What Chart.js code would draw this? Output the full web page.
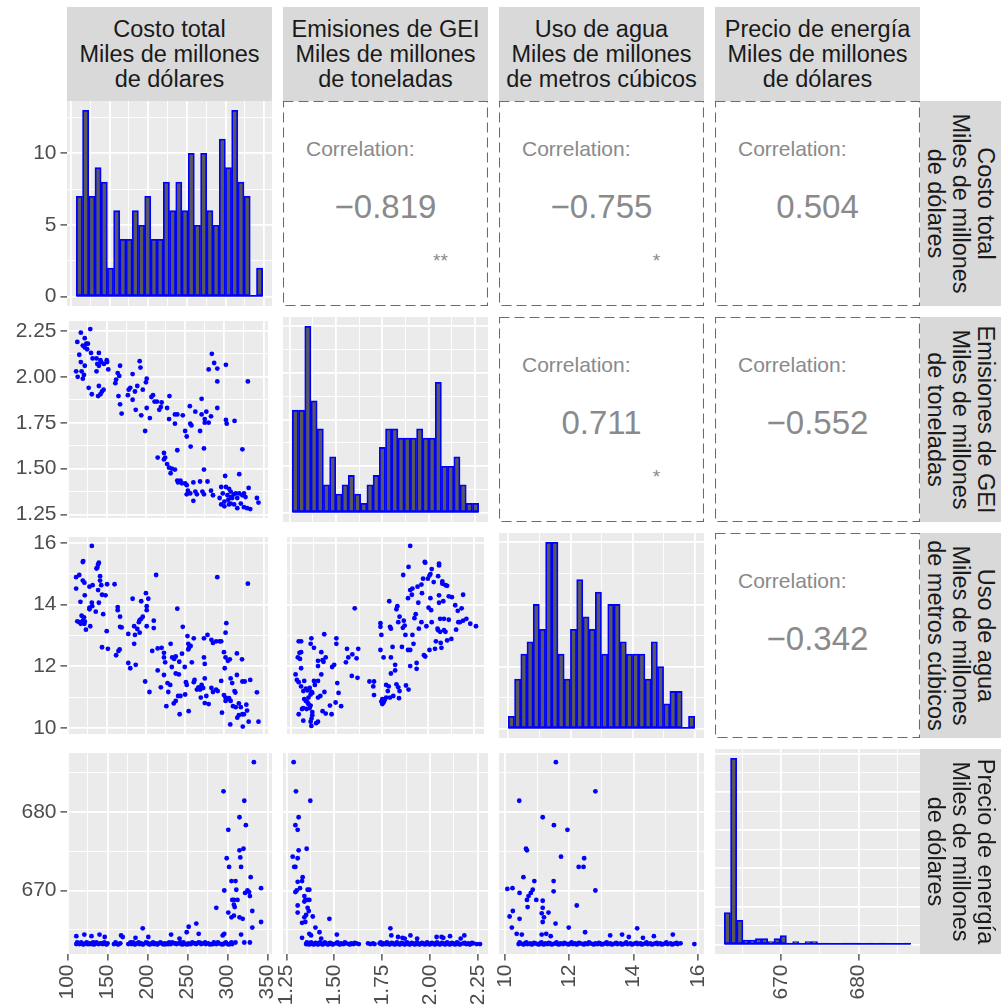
<!DOCTYPE html>
<html>
<head>
<meta charset="utf-8">
<script src="https://cdn.jsdelivr.net/npm/chart.js@4.4.1/dist/chart.umd.min.js"></script>
<style>
  body { margin: 0; width: 1008px; height: 1008px; position: relative; overflow: hidden; background: #fff;
         font-family: "Liberation Sans", Arial, sans-serif; }
  canvas { position: absolute; }
  .strip { position: absolute; background: #d9d9d9; color: #1a1a1a; font-size: 23.5px; line-height: 25px;
           display: flex; flex-direction: column; align-items: center; justify-content: center; white-space: nowrap; }
  .upper { position: absolute; width: 205px; height: 205px; background: #fff; }
  .upper svg { position: absolute; left: 0; top: 0; }
  .corr-label { position: absolute; left: 23px; top: 37px; font-size: 21px; line-height: 21px; color: #8a8a8a; white-space: nowrap; }
  .corr-value { position: absolute; left: 0; width: 205px; top: 89px; text-align: center; font-size: 33px; line-height: 33px; color: #8a8a8a; }
  .corr-stars { position: absolute; left: 137px; width: 41px; top: 150px; text-align: center; font-size: 19px; line-height: 19px; color: #8a8a8a; }
</style>
</head>
<body>
<script>
const FONT = '"Liberation Sans", Arial, sans-serif';

// variables (ranges of the data)
const costRange = [111, 344];
const ghgRange = [1.28, 2.255];
const waterRange = [10.1, 15.9];
const priceRange = [663.1, 686.3];

const costBreaks = [100, 150, 200, 250, 300, 350];
const costLabels = ['100', '150', '200', '250', '300', '350'];
const costMinor = [125, 175, 225, 275, 325];
const ghgBreaks = [1.25, 1.5, 1.75, 2.0, 2.25];
const ghgLabels = ['1.25', '1.50', '1.75', '2.00', '2.25'];
const ghgMinor = [1.375, 1.625, 1.875, 2.125];
const waterBreaks = [10, 12, 14, 16];
const waterLabels = ['10', '12', '14', '16'];
const waterMinor = [11, 13, 15];
const priceBreaks = [670, 680];
const priceLabels = ['670', '680'];
const priceMinor = [665, 675, 685];

const stripLabels = [
  ['Costo total', 'Miles de millones', 'de dólares'],
  ['Emisiones de GEI', 'Miles de millones', 'de toneladas'],
  ['Uso de agua', 'Miles de millones', 'de metros cúbicos'],
  ['Precio de energía', 'Miles de millones', 'de dólares']
];

// histogram counts (30 bins each)
const costCounts = [7, 13, 7, 9, 8, 2, 6, 4, 4, 6, 5, 7, 4, 4, 8, 6, 8, 6, 10, 5, 10, 6, 5, 11, 9, 13, 8, 7, 0, 2];
const ghgCounts = [11, 11, 20, 12, 9, 3, 6, 2, 3, 4, 2, 1, 3, 4, 7, 9, 9, 8, 8, 8, 9, 8, 8, 14, 5, 5, 6, 3, 1, 1];
const waterCounts = [1, 4, 6, 7, 10, 8, 15, 15, 6, 4, 8, 12, 9, 8, 11, 6, 10, 10, 7, 6, 6, 6, 4, 7, 5, 2, 3, 3, 0, 1];
const priceCounts = [21, 122, 16, 3, 3, 4, 4, 2, 4, 6, 1, 2, 0, 2, 2, 1, 1, 0, 0, 1, 1, 1, 0, 1, 0, 1, 0, 0, 0, 1];
const costCountBreaks = [0, 5, 10], costCountMinor = [2.5, 7.5, 12.5];
const ghgCountBreaks = [0, 5, 10, 15, 20], ghgCountMinor = [2.5, 7.5, 12.5, 17.5];
const waterCountBreaks = [0, 5, 10, 15], waterCountMinor = [2.5, 7.5, 12.5];
const priceCountBreaks = [0, 25, 50, 75, 100, 125], priceCountMinor = [12.5, 37.5, 62.5, 87.5, 112.5];

// correlations shown in the upper panels: [row, col, value, stars]
const corrPanels = [
  [0, 1, '\u22120.819', '**'], [0, 2, '\u22120.755', '*'], [0, 3, '0.504', ''],
  [1, 2, '0.711', '*'], [1, 3, '\u22120.552', ''], [2, 3, '\u22120.342', '']
];

// scatter points [x, y]
const costGhg = [[129,2.26],[117,2.24],[112.5,2.19],[122,2.21],[124,2.18],[119.5,2.17],[122,2.16],[126,2.18],[125,2.15],[115,2.12],[130,2.13],[132,2.10],[140,2.13],[137,2.10],[117,2.08],[122,2.06],[111,2.03],[118,2.03],[113,2.00],[119.5,1.99],[121,2.01],[138,2.07],[140,2.06],[143,2.08],[146.5,2.07],[150,2.09],[150.5,2.08],[142,2.09],[137,2.03],[152,2.04],[167,2.06],[127,1.94],[131,1.905],[140,1.95],[146,1.93],[142,1.905],[139,1.895],[144,1.92],[164,2.02],[162,1.985],[161,1.965],[166,2.005],[183,2.015],[192,2.085],[193,2.05],[201,1.99],[200,1.97],[180,1.94],[178,1.93],[186,1.92],[189,1.95],[196,1.93],[165,1.895],[167,1.85],[169,1.80],[177,1.90],[183,1.875],[187,1.82],[194,1.79],[199,1.705],[201,1.83],[205,1.775],[207,1.89],[209,1.90],[211,1.865],[214,1.865],[217,1.82],[219,1.835],[220,1.86],[227,1.83],[230,1.895],[229.5,1.77],[237,1.745],[237,1.795],[240,1.795],[247,1.79],[250,1.705],[252,1.675],[256.5,1.745],[258,1.735],[256,1.84],[263,1.81],[269,1.705],[271,1.88],[271,1.795],[275,1.77],[277,1.81],[275,1.75],[280,1.75],[283,1.785],[291,1.83],[302,1.765],[303,1.745],[313,1.76],[274,1.61],[257,1.62],[240,1.60],[323,1.605],[284,2.125],[287,2.075],[291,2.045],[280,2.04],[302,2.065],[291,1.975],[330,1.975],[215,1.56],[223,1.585],[224.5,1.56],[223,1.55],[227,1.525],[229.5,1.505],[233,1.50],[237,1.495],[231.5,1.475],[240,1.435],[241,1.425],[244,1.435],[246,1.42],[250,1.42],[252,1.41],[253.5,1.38],[256.5,1.365],[263,1.375],[265,1.36],[260.5,1.325],[252,1.36],[269,1.43],[260.5,1.425],[272,1.375],[274,1.36],[278.5,1.43],[274,1.495],[283,1.38],[285.5,1.355],[301,1.46],[319,1.47],[296,1.40],[302,1.40],[306,1.39],[308,1.375],[298,1.365],[304,1.355],[308,1.345],[312,1.36],[314.5,1.365],[319,1.365],[323,1.355],[325,1.365],[327,1.345],[316.5,1.34],[310,1.34],[305,1.33],[300,1.32],[296,1.305],[300,1.295],[306,1.305],[312.5,1.305],[316.5,1.285],[325,1.29],[329,1.285],[333,1.28],[321,1.31],[331,1.395],[341.5,1.34],[343.5,1.315],[308,1.31],[294,1.34]];

const costWater = [[131,15.9],[119.5,15.38],[120,15.41],[138,15.2],[139,15.3],[140,15.36],[137,15.17],[111,14.89],[115,14.96],[119.5,14.78],[121.5,14.71],[111,14.52],[128,14.58],[132,14.63],[141.5,14.92],[141.5,14.78],[143,14.63],[139,14.47],[144,14.32],[148.5,14.3],[150.5,14.66],[160,14.66],[122,14.3],[116.5,14.09],[128,13.9],[131,14.06],[131.5,13.95],[128,13.85],[140,14.06],[145.5,13.69],[136,13.77],[118,13.64],[121,13.59],[119.5,13.48],[122,13.46],[112.5,13.46],[115,13.43],[117,13.38],[121.5,13.38],[123.5,13.19],[129,13.3],[150,13.14],[164,13.92],[164,13.82],[167,13.61],[167,13.28],[169,13.26],[183,14.19],[194,14.11],[200,14.37],[203,14.19],[201,13.95],[201,13.82],[210,13.48],[201,13.3],[210,13.24],[191,13.43],[194,13.54],[196,13.61],[192,13.5],[185,13.3],[189,13.21],[192,13.09],[186,13.02],[177.5,13.05],[213,14.96],[240,13.87],[247,13.28],[291,14.89],[330,14.68],[144,12.62],[151.5,12.57],[162,12.36],[165,12.5],[166.5,12.55],[185,12.73],[177.5,12.11],[180,11.94],[187,12.05],[208,12.5],[215,12.58],[220,12.6],[223,12.44],[223,12.29],[224.5,12.13],[231.5,12.73],[233.5,12.29],[238,12.32],[236,12.24],[233,11.98],[242.5,12.15],[215,11.87],[223,11.72],[238,11.77],[242,11.74],[246,12.41],[249.5,11.98],[253,12.98],[261,12.91],[254,12.73],[255,12.6],[257,12.66],[254,12.55],[258.5,12.13],[274,12.91],[278.5,13.02],[283.5,12.86],[285.5,12.76],[289.5,12.81],[294,12.81],[296,12.81],[302.5,13.4],[301.5,13.09],[299.5,12.46],[301.5,12.29],[304.5,12.18],[307,12.23],[316,12.42],[322.5,12.23],[300.5,11.94],[274,12.29],[275,12.08],[262,11.56],[261,11.49],[251,11.49],[252,11.4],[267,11.32],[271,11.4],[269,11.25],[273,11.3],[265,11.25],[275,11.61],[283.5,11.3],[289.5,11.25],[291.5,11.2],[285.5,11.17],[296,11.53],[299.5,11.07],[301.5,10.99],[304,10.94],[306,10.97],[301.5,10.88],[308,10.88],[313,11.2],[314,11.15],[310,11.46],[316,11.72],[308,11.61],[323,11.51],[326,11.51],[333,11.56],[311,10.71],[314.5,10.68],[318.5,10.8],[321,10.68],[328,10.76],[329,10.57],[318.5,10.42],[316.5,10.34],[323,10.45],[325,10.45],[331,10.21],[323.5,10.05],[307.5,10.12],[297,10.5],[341.5,11.16],[343.5,10.21],[270,10.99],[277,11.04],[280,10.78],[275,10.81],[271,11.3],[250,11.09],[244,11.04],[238,10.88],[235.5,10.8],[243,10.45],[254.5,10.55],[226,10.71],[228.5,11.17],[231,11.4],[227.5,11.46],[219,11.32],[204.5,11.17],[199,11.51],[241,11.04]];

const ghgWater = [[1.902,15.9],[1.893,15.22],[1.864,14.96],[1.981,15.38],[1.984,15.36],[2.059,15.33],[2.059,15.27],[2.019,15.15],[2.012,14.99],[2.007,14.94],[1.972,14.84],[1.963,14.65],[1.998,14.84],[2.054,14.92],[2.03,14.73],[2.077,14.75],[2.094,14.63],[2.103,14.61],[2.077,14.68],[1.942,14.58],[1.914,14.52],[1.902,14.47],[1.911,14.32],[1.89,14.21],[1.966,14.37],[2.012,14.21],[2.059,14.3],[2.082,14.11],[2.112,14.27],[2.129,14.24],[2.19,14.32],[2.147,13.98],[1.946,14.06],[2.002,13.9],[2.016,13.82],[2.059,14.06],[1.788,14.11],[1.832,13.95],[1.827,13.85],[1.6,13.88],[1.932,13.69],[1.925,13.56],[1.963,13.43],[2.019,13.43],[2.065,13.54],[2.086,13.54],[2.112,13.51],[2.164,13.43],[2.182,13.88],[2.161,13.8],[2.208,13.54],[2.229,13.38],[2.26,13.3],[2.19,13.48],[2.173,13.43],[1.844,13.61],[1.837,13.43],[1.867,13.48],[1.862,13.25],[1.872,13.32],[1.74,13.4],[1.74,13.28],[1.792,13.28],[1.797,13.22],[1.949,13.22],[1.99,13.3],[2.051,13.22],[2.065,13.12],[2.054,13.17],[2.086,13.17],[2.094,13.12],[2.152,13.19],[2.103,12.84],[2.126,12.89],[1.745,13.02],[1.806,12.63],[1.857,12.63],[1.876,13.02],[1.914,13.02],[1.92,12.73],[1.89,12.53],[1.902,12.53],[2.042,12.81],[2.068,12.76],[2.072,12.6],[2.037,12.57],[2.007,12.53],[1.977,12.36],[1.984,12.32],[1.74,12.53],[1.757,12.29],[1.797,12.29],[1.937,12.11],[1.902,12.01],[1.937,11.92],[1.82,12.05],[1.82,11.87],[1.797,11.77],[1.68,11.51],[1.705,11.51],[1.701,11.35],[1.705,11.07],[1.771,11.4],[1.785,11.35],[1.78,11.2],[1.827,11.42],[1.837,11.32],[1.844,11.2],[1.879,11.38],[1.893,11.25],[1.75,10.94],[1.762,10.9],[1.745,10.86],[1.757,10.83],[1.75,10.78],[1.771,10.99],[1.792,10.99],[1.81,11.04],[1.841,10.97],[1.295,12.81],[1.308,12.81],[1.364,12.91],[1.434,13.04],[1.5,12.91],[1.5,12.73],[1.36,12.73],[1.299,12.44],[1.308,12.46],[1.29,12.29],[1.302,12.24],[1.378,12.6],[1.418,12.46],[1.4,12.18],[1.43,12.15],[1.442,12.29],[1.425,12.2],[1.4,12.01],[1.558,12.57],[1.565,12.29],[1.587,12.39],[1.619,12.57],[1.61,12.26],[1.552,12.13],[1.308,11.94],[1.278,11.74],[1.285,11.56],[1.295,11.49],[1.325,11.53],[1.418,11.74],[1.477,11.98],[1.488,12.05],[1.584,11.69],[1.615,11.63],[1.505,11.46],[1.512,11.14],[1.308,11.35],[1.32,11.2],[1.334,11.28],[1.343,11.22],[1.355,11.3],[1.365,11.17],[1.378,11.53],[1.383,11.4],[1.4,11.53],[1.369,11.14],[1.348,10.99],[1.36,11.09],[1.435,11.17],[1.4,10.99],[1.413,11.04],[1.325,10.94],[1.334,10.88],[1.343,10.83],[1.348,10.78],[1.36,10.73],[1.355,10.65],[1.338,10.62],[1.313,10.62],[1.295,10.45],[1.369,10.52],[1.369,10.42],[1.365,10.31],[1.36,10.21],[1.364,10.07],[1.39,10.16],[1.4,10.21],[1.32,10.24],[1.425,10.55],[1.442,10.47],[1.465,10.73],[1.474,10.45],[1.496,10.83],[1.526,10.71],[1.32,10.65]];

const costPrice = [[333,686.3],[295,682.6],[321,681.4],[315,679.3],[323,678.3],[301,677.7],[315,675.1],[320,675.3],[299,674.1],[316,674.2],[302,673],[317,673],[305,671.2],[310,671.2],[329,671.7],[311,670.1],[296,670],[342,670.3],[322,669.7],[325,670],[327,669.8],[328,669.3],[306,668.8],[308,668.8],[312.5,668.8],[308,668.2],[309,667.9],[286,667.8],[301,667.2],[305,666.6],[308,666.8],[315,666.6],[319,666.4],[331,667.4],[342,666],[331,665.3],[317,664.4],[194,665.2],[251.5,665.4],[261,665.8],[264,664.5],[249,664.7],[229.5,664.4],[240,663.9],[201,664.1],[185,664],[167,664.3],[169,664.1],[111,664.2],[121,664.4],[130,664.2],[140,664.4],[146.5,664.1],[294,664.3],[296,664.5],[321,663.4],[328,663.4],[310,663.4],
  [111,663.2],[113,663.3],[115,663.2],[117,663.4],[119,663.2],[122,663.3],[125,663.2],[128,663.3],[130,663.2],[132,663.4],[134,663.2],[137,663.3],[139,663.2],[141,663.3],[144,663.2],[146,663.4],[148,663.2],[150,663.3],[158,663.2],[161,663.3],[164,663.2],[166,663.3],[176,663.2],[178,663.3],[180,663.2],[182,663.4],[185,663.2],[187,663.3],[190,663.2],[192,663.3],[195,663.2],[198,663.4],[201,663.2],[205,663.3],[208,663.2],[211,663.3],[213,663.2],[216,663.4],[219,663.2],[222,663.3],[224,663.2],[227,663.4],[229,663.2],[233,663.3],[236,663.2],[239,663.3],[242,663.2],[245,663.4],[248,663.2],[251,663.3],[254,663.2],[258,663.3],[261,663.2],[264,663.4],[267,663.2],[270,663.3],[273,663.2],[276,663.3],[280,663.2],[283,663.4],[286,663.2],[289,663.3],[292,663.2],[296,663.3],[300,663.2],[304,663.3],[306,663.2],
  [112,663.4],[116,663.25],[120,663.15],[124,663.4],[127,663.2],[133,663.15],[136,663.4],[143,663.3],[149,663.15],[160,663.4],[163,663.15],[179,663.4],[184,663.15],[189,663.4],[194,663.15],[200,663.35],[203,663.15],[207,663.4],[212,663.15],[218,663.3],[221,663.15],[226,663.2],[231,663.4],[235,663.3],[241,663.4],[244,663.15],[250,663.15],[256,663.4],[260,663.3],[266,663.35],[272,663.4],[278,663.15],[282,663.2],[288,663.4],[294,663.15],[298,663.4],[302,663.15],[305,663.4]];

const ghgPrice = [[1.287,686.3],[1.299,682.6],[1.374,681.4],[1.313,679.3],[1.296,678.3],[1.308,677.7],[1.313,675.1],[1.355,675.3],[1.282,674.3],[1.308,674.1],[1.29,673],[1.296,673],[1.308,671.1],[1.331,671.2],[1.334,671.7],[1.32,670.3],[1.296,669.8],[1.303,670],[1.36,670.1],[1.369,670.1],[1.343,669.3],[1.348,668.8],[1.36,668.8],[1.369,668.8],[1.343,668.6],[1.308,668.1],[1.308,667.2],[1.36,667.8],[1.366,667.4],[1.352,666.9],[1.343,666.6],[1.387,666.7],[1.331,665.9],[1.348,666],[1.474,666.4],[1.401,665.3],[1.422,664.7],[1.331,664],[1.369,664.5],[1.378,664.3],[1.431,663.9],[1.513,664.4],[1.793,665.2],[1.798,664.3],[1.833,664.1],[1.856,664],[1.868,663.9],[1.898,664.3],[1.933,663.9],[2.035,664.1],[2.061,664.1],[2.07,664],[2.105,664.2],[2.161,663.9],[2.18,664.3],
  [1.352,663.2],[1.36,663.3],[1.373,663.2],[1.383,663.3],[1.395,663.2],[1.408,663.3],[1.418,663.2],[1.43,663.3],[1.443,663.2],[1.457,663.3],[1.471,663.2],[1.483,663.3],[1.495,663.2],[1.509,663.3],[1.523,663.2],[1.535,663.3],[1.548,663.2],[1.562,663.3],[1.576,663.2],[1.588,663.3],[1.6,663.2],[1.614,663.3],[1.628,663.2],[1.676,663.3],[1.688,663.2],[1.702,663.3],[1.71,663.2],[1.737,663.3],[1.746,663.2],[1.758,663.3],[1.768,663.2],[1.781,663.3],[1.793,663.2],[1.807,663.3],[1.821,663.2],[1.833,663.3],[1.845,663.2],[1.859,663.3],[1.873,663.2],[1.886,663.3],[1.898,663.2],[1.912,663.3],[1.926,663.2],[1.938,663.3],[1.951,663.2],[1.965,663.3],[1.979,663.2],[1.991,663.3],[2.003,663.2],[2.017,663.3],[2.031,663.2],[2.043,663.3],[2.056,663.2],[2.07,663.3],[2.084,663.2],[2.096,663.3],[2.108,663.2],[2.122,663.3],[2.136,663.2],[2.148,663.3],[2.161,663.2],[2.175,663.3],[2.189,663.2],[2.201,663.3],[2.213,663.2],[2.227,663.3],[2.245,663.2],[2.262,663.2],
  [1.356,663.4],[1.366,663.15],[1.378,663.4],[1.39,663.15],[1.402,663.35],[1.413,663.15],[1.425,663.4],[1.437,663.15],[1.45,663.4],[1.465,663.15],[1.477,663.35],[1.49,663.15],[1.516,663.4],[1.53,663.15],[1.555,663.4],[1.582,663.15],[1.606,663.35],[1.742,663.4],[1.752,663.15],[1.775,663.4],[1.787,663.15],[1.8,663.35],[1.814,663.15],[1.827,663.4],[1.84,663.15],[1.852,663.35],[1.866,663.15],[1.88,663.4],[1.892,663.15],[1.905,663.35],[1.919,663.15],[1.932,663.4],[1.944,663.15],[1.958,663.35],[1.972,663.15],[1.985,663.4],[1.997,663.15],[2.01,663.35],[2.024,663.15],[2.037,663.4],[2.05,663.15],[2.063,663.35],[2.077,663.15],[2.09,663.4],[2.102,663.15],[2.115,663.35],[2.129,663.15],[2.142,663.4],[2.155,663.15],[2.182,663.35],[2.207,663.15],[2.22,663.35]];

const waterPrice = [[11.58,686.3],[12.81,682.6],[10.44,681.4],[11.17,679.3],[11.52,678.3],[11.94,677.7],[10.65,675.3],[10.68,675.1],[11.74,674.3],[12.46,674.1],[12.29,673],[12.44,673],[10.57,671.7],[10.91,671.2],[11.51,671.2],[10.07,670.2],[10.23,670.3],[10.45,669.7],[10.86,670.1],[10.8,669.7],[10.73,669.3],[10.68,668.8],[10.97,668.8],[11.51,669.9],[12.81,670],[11.17,668.7],[10.7,667.9],[11.17,667.8],[11.14,667.1],[11.21,666.6],[11.35,667.2],[11.17,666],[10.45,666.4],[10.24,667.4],[10.14,666.7],[12.23,668.1],[11.57,665.8],[10.21,665.3],[11.98,665.3],[14.11,665.2],[14.29,664],[14.63,664.2],[15.22,664.4],[12.49,664.7],[10.36,664.5],[10.52,664.4],[11.14,664.4],[11.28,664.5],[11.42,664.2],[13.27,664.3],[13.64,664.4],[13.85,664.1],
  [10.42,663.2],[10.47,663.3],[10.55,663.2],[10.62,663.3],[10.7,663.2],[10.78,663.3],[10.86,663.2],[10.94,663.3],[11.01,663.2],[11.09,663.3],[11.17,663.2],[11.25,663.3],[11.32,663.2],[11.4,663.3],[11.49,663.2],[11.56,663.3],[11.63,663.2],[11.72,663.3],[11.8,663.2],[11.87,663.3],[11.94,663.2],[12.03,663.3],[12.11,663.2],[12.18,663.3],[12.26,663.2],[12.34,663.3],[12.42,663.2],[12.49,663.3],[12.57,663.2],[12.65,663.3],[12.73,663.2],[12.81,663.3],[12.88,663.2],[12.96,663.3],[13.05,663.2],[13.12,663.3],[13.19,663.2],[13.27,663.3],[13.36,663.2],[13.43,663.3],[13.5,663.2],[13.59,663.3],[13.67,663.2],[13.74,663.3],[13.81,663.2],[13.9,663.3],[13.98,663.2],[14.05,663.3],[14.13,663.2],[14.21,663.3],[14.29,663.2],[14.37,663.3],[14.44,663.2],[14.52,663.3],[14.61,663.2],[14.68,663.3],[14.75,663.2],[14.83,663.3],[14.92,663.2],[14.99,663.3],[15.06,663.2],[15.15,663.3],[15.23,663.2],[15.3,663.3],[15.37,663.2],[15.46,663.3],[15.89,663.2],
  [10.45,663.4],[10.58,663.15],[10.66,663.4],[10.82,663.15],[10.9,663.35],[11.05,663.15],[11.13,663.4],[11.21,663.15],[11.36,663.35],[11.44,663.15],[11.6,663.4],[11.68,663.15],[11.84,663.35],[11.98,663.15],[12.07,663.4],[12.22,663.15],[12.3,663.35],[12.46,663.15],[12.61,663.4],[12.77,663.15],[12.92,663.35],[13.0,663.15],[13.16,663.4],[13.31,663.15],[13.46,663.35],[13.63,663.15],[13.77,663.4],[13.94,663.15],[14.09,663.35],[14.25,663.15],[14.4,663.4],[14.56,663.15],[14.72,663.35],[14.87,663.15],[15.02,663.4],[15.19,663.15],[15.34,663.35]];

// layout of the panel grid
const colLeft = [67, 283, 499, 715];
const rowTop = [101, 317, 533, 749];
const SIZE = 205;

function scatterLimits(r) {
  const pad = (r[1] - r[0]) * 0.05;
  return [r[0] - pad, r[1] + pad];
}
function histLimits(r) {
  const w = (r[1] - r[0]) / 29;
  const lo = r[0] - w / 2, hi = r[1] + w / 2, pad = (hi - lo) * 0.05;
  return [lo - pad, hi + pad];
}
function countLimits(counts) {
  const m = Math.max(...counts);
  return [-0.05 * m, 1.05 * m];
}

const vars = [
  { range: costRange, breaks: costBreaks, labels: costLabels, minor: costMinor, counts: costCounts, cb: costCountBreaks, cm: costCountMinor },
  { range: ghgRange, breaks: ghgBreaks, labels: ghgLabels, minor: ghgMinor, counts: ghgCounts, cb: ghgCountBreaks, cm: ghgCountMinor },
  { range: waterRange, breaks: waterBreaks, labels: waterLabels, minor: waterMinor, counts: waterCounts, cb: waterCountBreaks, cm: waterCountMinor },
  { range: priceRange, breaks: priceBreaks, labels: priceLabels, minor: priceMinor, counts: priceCounts, cb: priceCountBreaks, cm: priceCountMinor }
];

function axis(breaks, labels, minor, lim, show, isX) {
  const all = breaks.concat(minor).filter(v => v >= lim[0] && v <= lim[1]).sort((a, b) => a - b);
  const isMajor = v => breaks.some(b => Math.abs(b - v) < 1e-6);
  return {
    type: 'linear', min: lim[0], max: lim[1], offset: false,
    afterBuildTicks: s => { s.ticks = all.map(v => ({ value: v })); },
    afterFit: s => {
      if (isX) s.height = show ? 54 : 0; else s.width = show ? 67 : 0;
      s.paddingLeft = 0; s.paddingRight = 0; s.paddingTop = 0; s.paddingBottom = 0;
    },
    border: { display: false },
    grid: {
      offset: false, color: '#ffffff',
      lineWidth: c => (c.tick && isMajor(c.tick.value)) ? 1.8 : 0.9,
      drawTicks: show, tickLength: 6.5, tickWidth: 1.2,
      tickColor: c => (c.tick && isMajor(c.tick.value)) ? '#333333' : 'rgba(0,0,0,0)'
    },
    ticks: {
      display: show, autoSkip: false, padding: 4, color: '#4d4d4d',
      font: { family: FONT, size: 21 },
      maxRotation: isX ? 90 : 0, minRotation: isX ? 90 : 0,
      callback: v => {
        const i = breaks.findIndex(b => Math.abs(b - v) < 1e-6);
        return i < 0 ? '' : labels[i];
      }
    }
  };
}

const panelBg = {
  id: 'panelBg',
  beforeDraw(chart) {
    const a = chart.chartArea, ctx = chart.ctx;
    ctx.save();
    ctx.fillStyle = '#ebebeb';
    ctx.fillRect(a.left, a.top, a.right - a.left, a.bottom - a.top);
    ctx.restore();
  }
};

// blue outline along the base of the histogram (also under empty bins)
const histBase = {
  id: 'histBase',
  afterDatasetsDraw(chart, args, opts) {
    if (!opts.range) return;
    const w = (opts.range[1] - opts.range[0]) / 29;
    const x = chart.scales.x, y = chart.scales.y, ctx = chart.ctx;
    ctx.save();
    ctx.strokeStyle = '#0000ff';
    ctx.lineWidth = 1.8;
    ctx.beginPath();
    ctx.moveTo(x.getPixelForValue(opts.range[0] - w / 2), y.getPixelForValue(0) - 0.9);
    ctx.lineTo(x.getPixelForValue(opts.range[1] + w / 2), y.getPixelForValue(0) - 0.9);
    ctx.stroke();
    ctx.restore();
  }
};

function makePanel(r, c, type, datasets, xAxis, yAxis, extra) {
  const leftAxis = c === 0, bottomAxis = r === 3;
  const padL = leftAxis ? 67 : (bottomAxis ? 14 : 0);
  const padR = bottomAxis ? 14 : 0;
  const canvas = document.createElement('canvas');
  canvas.width = SIZE + padL + padR;
  canvas.height = SIZE + (bottomAxis ? 54 : 0);
  canvas.style.left = (colLeft[c] - padL) + 'px';
  canvas.style.top = rowTop[r] + 'px';
  document.body.appendChild(canvas);
  new Chart(canvas, {
    type: type,
    data: { datasets: datasets },
    options: {
      responsive: false, animation: false, devicePixelRatio: 1,
      layout: { padding: { left: leftAxis ? 0 : padL, right: padR, top: 0, bottom: 0 } },
      plugins: { legend: { display: false }, tooltip: { enabled: false }, histBase: extra || {} },
      scales: { x: xAxis, y: yAxis }
    },
    plugins: [panelBg, histBase]
  });
}

// diagonal histograms
vars.forEach((v, i) => {
  const w = (v.range[1] - v.range[0]) / 29;
  const bars = v.counts.map((n, k) => ({ x: v.range[0] + k * w, y: n }));
  makePanel(i, i, 'bar', [{
    data: bars, backgroundColor: '#595959', borderColor: '#0000ff', borderWidth: 1.8,
    borderSkipped: false, barPercentage: 1, categoryPercentage: 1
  }],
    axis(v.breaks, v.labels, v.minor, histLimits(v.range), i === 3, true),
    axis(v.cb, v.cb.map(String), v.cm, countLimits(v.counts), i === 0, false),
    { range: v.range });
});

// lower scatter panels
const scatterPanels = [
  [1, 0, costGhg], [2, 0, costWater], [2, 1, ghgWater],
  [3, 0, costPrice], [3, 1, ghgPrice], [3, 2, waterPrice]
];
scatterPanels.forEach(([r, c, pts]) => {
  const vx = vars[c], vy = vars[r];
  makePanel(r, c, 'scatter', [{
    data: pts.map(p => ({ x: p[0], y: p[1] })),
    pointRadius: 2.4, pointBackgroundColor: '#0000ff', pointBorderWidth: 0, clip: false
  }],
    axis(vx.breaks, vx.labels, vx.minor, scatterLimits(vx.range), r === 3, true),
    axis(vy.breaks, vy.labels, vy.minor, scatterLimits(vy.range), c === 0, false));
});

// upper correlation panels
corrPanels.forEach(([r, c, value, stars]) => {
  const div = document.createElement('div');
  div.className = 'upper';
  div.style.left = colLeft[c] + 'px';
  div.style.top = rowTop[r] + 'px';
  div.innerHTML =
    '<svg width="205" height="205"><rect x="0.5" y="0.5" width="204" height="204" fill="none" stroke="#6b6b6b" stroke-width="1.1" stroke-dasharray="10 5"/></svg>' +
    '<div class="corr-label">Correlation:</div>' +
    '<div class="corr-value">' + value + '</div>' +
    (stars ? '<div class="corr-stars">' + stars + '</div>' : '');
  document.body.appendChild(div);
});

// strips
stripLabels.forEach((lines, i) => {
  const top = document.createElement('div');
  top.className = 'strip';
  top.style.left = colLeft[i] + 'px';
  top.style.top = '7px';
  top.style.width = SIZE + 'px';
  top.style.height = '94px';
  top.innerHTML = lines.map(t => '<div>' + t + '</div>').join('');
  document.body.appendChild(top);

  const right = document.createElement('div');
  right.className = 'strip';
  right.style.left = (960.5 - SIZE / 2) + 'px';
  right.style.top = (rowTop[i] + SIZE / 2 - 40.5) + 'px';
  right.style.width = SIZE + 'px';
  right.style.height = '81px';
  right.style.transform = 'rotate(90deg)';
  right.innerHTML = lines.map(t => '<div>' + t + '</div>').join('');
  document.body.appendChild(right);
});
</script>
</body>
</html>
